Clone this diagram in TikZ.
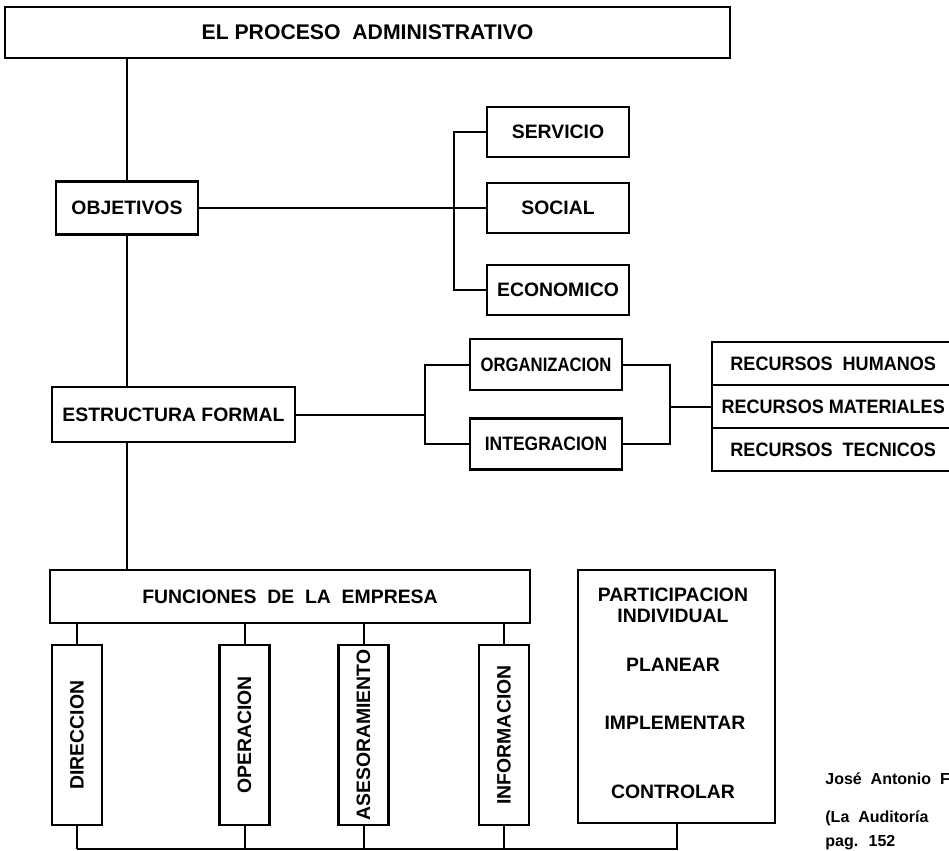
\documentclass[tikz,border=0pt]{standalone}
\usepackage{fontspec}
\setmainfont{Liberation Sans}

\begin{document}
\begin{tikzpicture}[x=0.5pt, y=-0.5pt,
		caja/.style={draw, line width=1.2pt, inner sep=0pt, font=\fontsize{9.7}{10.5}\selectfont\bfseries},
		lateral/.style={caja, minimum width=71pt, minimum height=25pt},
		vcaja/.style={caja, minimum width=25pt, minimum height=90pt},
		recurso/.style={caja, anchor=north west, minimum width=121pt, minimum height=21.5pt},
		texto/.style={font=\fontsize{9.7}{10.5}\selectfont\bfseries, align=center},
		cita/.style={anchor=base west, inner sep=0pt, font=\fontsize{8}{9}\selectfont\bfseries},
		linea/.style={line width=1pt}]
		
		\clip (0,0) rectangle (949,851);
		
		% cajas principales
		\node[caja, minimum width=362.5pt, minimum height=25.5pt, font=\fontsize{10.6}{11}\selectfont\bfseries] (titulo) at (367.5,32.5) {EL PROCESO \ ADMINISTRATIVO};
		\node[caja, minimum width=71pt, minimum height=26.5pt] (obj) at (127,208) {OBJETIVOS};
		\node[caja, minimum width=121.5pt, minimum height=27.5pt] (estr) at (173.5,414.5) {ESTRUCTURA FORMAL};
		\node[caja, minimum width=240pt, minimum height=26.5pt] (func) at (290,596.5) {FUNCIONES \ DE \ LA \ EMPRESA};
		
		% objetivos
		\node[lateral] (serv) at (558,132) {SERVICIO};
		\node[lateral] (soc) at (558,208) {SOCIAL};
		\node[lateral] (eco) at (558,290) {ECONOMICO};
		
		% estructura
		\node[caja, minimum width=76pt, minimum height=25.5pt] (org) at (546,364.5) {\scalebox{0.86}[1]{ORGANIZACION}};
		\node[caja, minimum width=76pt, minimum height=25.5pt] (integ) at (546,444) {\scalebox{0.9}[1]{INTEGRACION}};
		\node[recurso] (rh) at (711,341) {\scalebox{0.93}[1]{RECURSOS \ HUMANOS}};
		\node[recurso] (rm) at (711,384) {\scalebox{0.93}[1]{RECURSOS MATERIALES}};
		\node[recurso] (rt) at (711,427) {\scalebox{0.93}[1]{RECURSOS \ TECNICOS}};
		
		% funciones
		\node[vcaja] (dir) at (77,735) {\rotatebox{90}{DIRECCION}};
		\node[vcaja] (oper) at (244.5,735) {\rotatebox{90}{OPERACION}};
		\node[vcaja] (ases) at (363.5,735) {\rotatebox{90}{ASESORAMIENTO}};
		\node[vcaja] (info) at (504,735) {\rotatebox{90}{INFORMACION}};
		
		\node[caja, minimum width=98.5pt, minimum height=126.5pt] (part) at (676.5,696.5) {};
		\node[texto] (pi) at (673,605) {PARTICIPACION\\INDIVIDUAL};
		\node[texto] (plan) at (673,665) {PLANEAR};
		\node[texto] (impl) at (675,723) {IMPLEMENTAR};
		\node[texto] (ctrl) at (673,792) {CONTROLAR};
		
		\node[cita] (cita1) at (825,784) {José \ Antonio \ F};
		\node[cita] (cita2) at (825,822) {(La \ Auditoría};
		\node[cita] (cita3) at (825,846) {pag. \ 152};
		
		% eje vertical
		\draw[linea] (titulo.south -| obj.north) -- (obj.north);
		\draw[linea] (obj.south) -- (estr.north -| obj.south);
		\draw[linea] (estr.south -| obj.south) -- (func.north -| obj.south);
		
		% llaves
		\coordinate (llaveA) at (454,0);
		\coordinate (llaveB) at (425,0);
		\coordinate (llaveC) at (670,0);
		\coordinate (base) at (0,849);
		
		\draw[linea] (obj.east) -- (soc.west);
		\draw[linea] (serv.west) -- (serv.west -| llaveA) -- (eco.west -| llaveA) -- (eco.west);
		
		\draw[linea] (estr.east) -- (estr.east -| llaveB);
		\draw[linea] (org.west) -- (org.west -| llaveB) -- (integ.west -| llaveB) -- (integ.west);
		\draw[linea] (org.east) -- (org.east -| llaveC) -- (integ.east -| llaveC) -- (integ.east);
		\draw[linea] (rm.west -| llaveC) -- (rm.west);
		
		% funciones de la empresa
		\foreach \f in {dir,oper,ases,info} {
			\draw[linea] (func.south -| \f.north) -- (\f.north);
			\draw[linea] (\f.south) -- (\f.south |- base);
		}
		\draw[linea] (part.south) -- (part.south |- base) -- (dir.south |- base);
		
	\end{tikzpicture}
\end{document}
